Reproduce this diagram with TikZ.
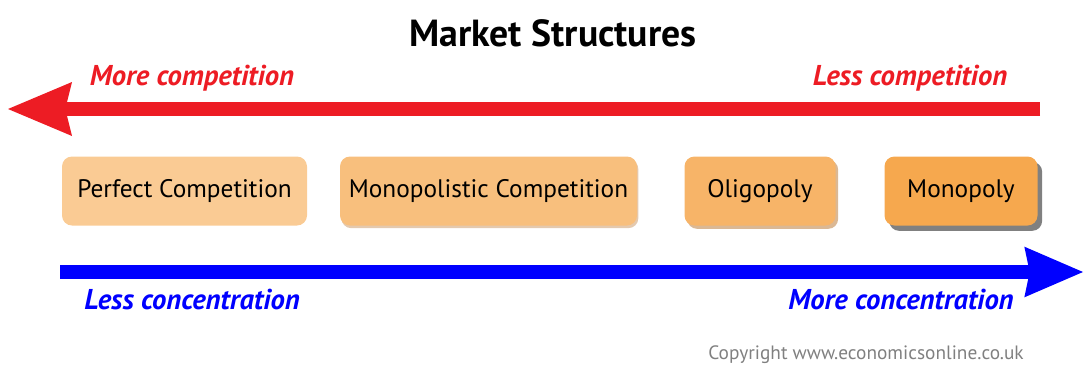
\documentclass[tikz,border=0pt]{standalone}
\usepackage{fontspec}
\setmainfont{PT Sans}
\usepackage{xcolor}
\usetikzlibrary{arrows.meta,shadows}

\definecolor{compred}{HTML}{ED1C24}
\definecolor{concblue}{HTML}{0000FF}
\definecolor{boxa}{HTML}{FACB94}
\definecolor{boxb}{HTML}{F8BF7D}
\definecolor{boxc}{HTML}{F7B468}
\definecolor{boxd}{HTML}{F6A84E}

\tikzset{
	mktbox/.style={rounded corners=7.5pt, minimum height=51.75pt, inner sep=0pt,
		font=\fontsize{19}{22}\selectfont},
	complabel/.style={compred, font=\bfseries\itshape\fontsize{21.5}{24}\selectfont},
	conclabel/.style={concblue, font=\bfseries\itshape\fontsize{21.5}{24}\selectfont},
	bigarrow/.style={line width=10.5pt}
}

\begin{document}
\begin{tikzpicture}[x=0.75pt,y=-0.75pt]
		\useasboundingbox (0,0) rectangle (1084,365);
		\node[font=\bfseries\fontsize{28.3}{31}\selectfont] (title) at (553,33) {Market Structures};
		
		% competition arrow
		\coordinate (redstart) at (1040,109);
		\coordinate (redend) at (8,109);
		\draw[bigarrow, compred, -{Stealth[length=48pt,width=40.5pt,inset=5pt,line width=0pt]}] (redstart) -- (redend);
		\node[complabel] (morecomp) at (192,78) {More competition};
		\node[complabel] (lesscomp) at (910,78) {Less competition};
		
		% the four structures
		\node[mktbox, fill=boxa, minimum width=183.75pt] (perfect) at (184.5,191) {Perfect Competition};
		\node[mktbox, fill=boxb, minimum width=222.75pt,
			drop shadow={shadow xshift=1pt, shadow yshift=-2pt, fill=brown!60!white, opacity=0.7}] (monocomp) at (488.5,191) {Monopolistic Competition};
		\node[mktbox, fill=boxc, minimum width=113.25pt,
			drop shadow={shadow xshift=2pt, shadow yshift=-2.5pt, fill=brown!70!white, opacity=0.8}] (oligo) at (760,191) {Oligopoly};
		\node[mktbox, fill=boxd, minimum width=114.75pt,
			drop shadow={shadow xshift=3.5pt, shadow yshift=-4pt, fill=gray, opacity=1}] (mono) at (961,191) {Monopoly};
		
		% concentration arrow
		\coordinate (bluestart) at (60,272);
		\coordinate (blueend) at (1083,272);
		\draw[bigarrow, concblue, -{Stealth[length=44pt,width=38pt,inset=4pt,line width=0pt]}] (bluestart) -- (blueend);
		\node[conclabel] (lessconc) at (192,300) {Less concentration};
		\node[conclabel] (moreconc) at (901,300) {More concentration};
		
		\node[gray, font=\fontsize{14.5}{16}\selectfont] (copyr) at (866,355) {Copyright www.economicsonline.co.uk};
	\end{tikzpicture}
\end{document}
